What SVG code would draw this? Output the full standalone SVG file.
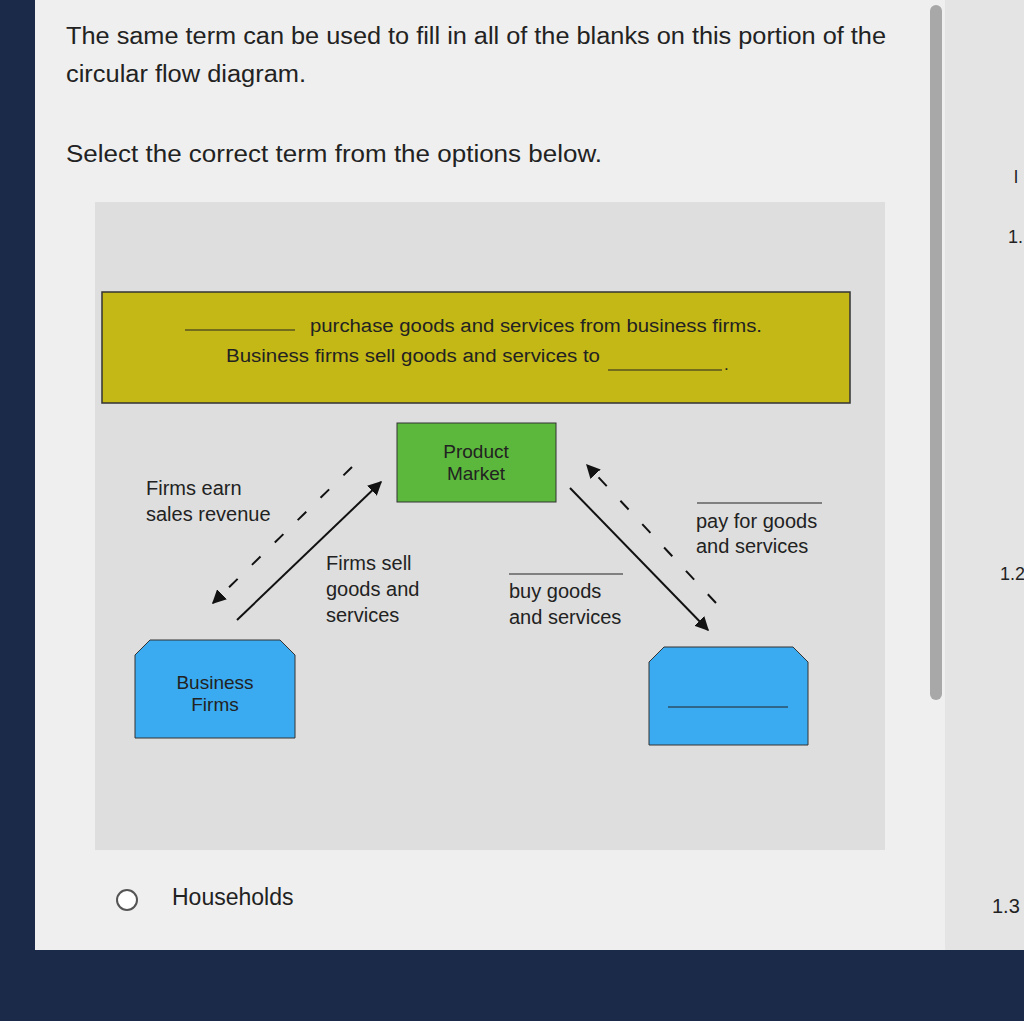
<svg xmlns="http://www.w3.org/2000/svg" width="1024" height="1021" viewBox="0 0 1024 1021">
<style>
.t{font-family:"Liberation Sans",Arial,sans-serif;fill:#222}
.big{font-size:23px}
.lab{font-size:20px}
.ln{stroke:#111;stroke-width:2;fill:none}
.ds{stroke:#111;stroke-width:2;fill:none;stroke-dasharray:12 20}
</style>
<defs>
<marker id="ah" viewBox="0 0 10 10" refX="9" refY="5" markerWidth="7" markerHeight="7" orient="auto"><path d="M0,0 L10,5 L0,10 z" fill="#111"/></marker>
</defs>
<rect width="1024" height="1021" fill="#1c2a4a"/>
<rect x="35" y="0" width="989" height="950" fill="#efefef"/>
<rect x="945" y="0" width="79" height="950" fill="#e4e4e4"/>
<rect x="930" y="5" width="12" height="695" rx="6" fill="#a8a8a8"/>
<text class="t big" x="66" y="44" textLength="820" lengthAdjust="spacingAndGlyphs">The same term can be used to fill in all of the blanks on this portion of the</text>
<text class="t big" x="66" y="82" textLength="240" lengthAdjust="spacingAndGlyphs">circular flow diagram.</text>
<text class="t big" x="66" y="162" textLength="536" lengthAdjust="spacingAndGlyphs">Select the correct term from the options below.</text>
<rect x="95" y="202" width="790" height="648" fill="#dedede"/>
<g id="banner">
<rect x="102" y="292" width="748" height="111" fill="#c4b816" stroke="#333" stroke-width="1.5"/>
<line x1="185" y1="330" x2="295" y2="330" stroke="#222"/>
<text class="t" font-size="18" x="310" y="332" textLength="452" lengthAdjust="spacingAndGlyphs">purchase goods and services from business firms.</text>
<text class="t" font-size="18" x="226" y="362" textLength="374" lengthAdjust="spacingAndGlyphs">Business firms sell goods and services to</text>
<line x1="608" y1="370" x2="722" y2="370" stroke="#222"/>
<text class="t" font-size="17" x="724" y="370">.</text>
</g>
<g id="product">
<rect x="397" y="423" width="159" height="79" fill="#5cb83c" stroke="#333"/>
<text class="t" font-size="19" x="476" y="458" text-anchor="middle">Product</text>
<text class="t" font-size="19" x="476" y="480" text-anchor="middle">Market</text>
</g>
<g id="firms">
<path d="M135,655 L150,640 L280,640 L295,655 L295,738 L135,738 Z" fill="#3aabf0" stroke="#333"/>
<text class="t" font-size="19" x="215" y="689" text-anchor="middle">Business</text>
<text class="t" font-size="19" x="215" y="711" text-anchor="middle">Firms</text>
</g>
<g id="households">
<path d="M649,662 L664,647 L793,647 L808,662 L808,745 L649,745 Z" fill="#3aabf0" stroke="#333"/>
<line x1="668" y1="707" x2="788" y2="707" stroke="#222"/>
</g>
<g id="connectors">
<line class="ln" x1="237" y1="620" x2="381" y2="482" marker-end="url(#ah)"/>
<line class="ds" x1="352" y1="467" x2="213" y2="603" marker-end="url(#ah)"/>
<line class="ln" x1="570" y1="488" x2="708" y2="630" marker-end="url(#ah)"/>
<line class="ds" x1="716" y1="603" x2="587" y2="465" marker-end="url(#ah)"/>
</g>
<text class="t lab" x="146" y="495">Firms earn</text>
<text class="t lab" x="146" y="521">sales revenue</text>
<text class="t lab" x="326" y="570">Firms sell</text>
<text class="t lab" x="326" y="596">goods and</text>
<text class="t lab" x="326" y="622">services</text>
<line x1="509" y1="574" x2="623" y2="574" stroke="#222"/>
<text class="t lab" x="509" y="598">buy goods</text>
<text class="t lab" x="509" y="624">and services</text>
<line x1="697" y1="503" x2="822" y2="503" stroke="#222"/>
<text class="t lab" x="696" y="528">pay for goods</text>
<text class="t lab" x="696" y="553">and services</text>
<circle cx="127" cy="900" r="10" fill="#fff" stroke="#555" stroke-width="2"/>
<text class="t big" x="172" y="905">Households</text>
<text class="t" font-size="18" x="1008" y="243">1.</text>
<text class="t" font-size="18" x="1000" y="580">1.2</text>
<text class="t" font-size="20" x="992" y="913">1.3</text>
<text class="t" font-size="18" x="1014" y="183">l</text>
</svg>
